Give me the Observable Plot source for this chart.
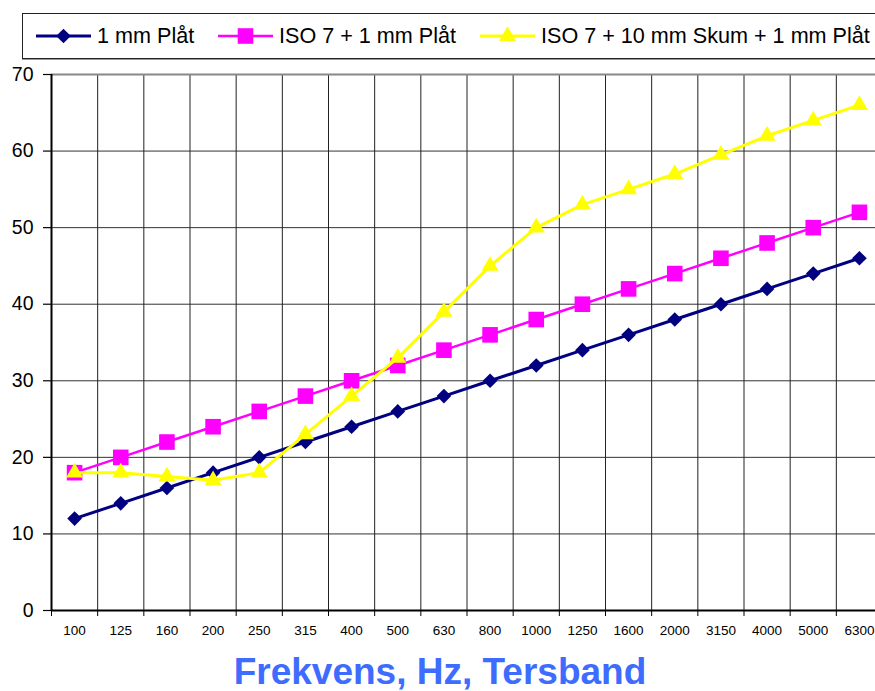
<!DOCTYPE html>
<html><head><meta charset="utf-8">
<script src="https://cdn.jsdelivr.net/npm/d3@7"></script>
<script src="https://cdn.jsdelivr.net/npm/@observablehq/plot@0.6"></script>
<style>
html,body{margin:0;padding:0;background:#fff;overflow:hidden;width:875px;height:691px;font-family:"Liberation Sans",Arial,sans-serif;position:relative;}
#legend{position:absolute;left:22px;top:13px;width:880px;height:44px;border:1px solid #222;box-shadow:0 1px 0 #999;background:#fff;}
.item{position:absolute;top:0;height:44px;display:flex;align-items:center;font-size:21.6px;color:#000;white-space:nowrap;}
.item svg{margin-right:6px}
#chart{position:absolute;left:0;top:60px;width:882px;}
#chart svg{max-width:none !important;display:block;}
#title{position:absolute;left:0;width:880px;top:654px;height:36px;text-align:center;font-weight:bold;font-size:37px;line-height:36px;color:#3d6cff;}
</style></head><body>
<div id="legend"></div>
<div id="chart"></div>
<div id="title">Frekvens, Hz, Tersband</div>
<script>
const categories = ["100","125","160","200","250","315","400","500","630","800","1000","1250","1600","2000","3150","4000","5000","6300"];
const seriesNames = ["1 mm Plåt","ISO 7 + 1 mm Plåt","ISO 7 + 10 mm Skum + 1 mm Plåt"];
const plat1 = [12,14,16,18,20,22,24,26,28,30,32,34,36,38,40,42,44,46];
const iso7plat = [18,20,22,24,26,28,30,32,34,36,38,40,42,44,46,48,50,52];
const iso7skum = [18,18,17.5,17,18,23,28,33,39,45,50,53,55,57,59.5,62,64,66];
const yTicks = [0,10,20,30,40,50,60,70];
const colors = ["#000080","#ff00ff","#ffff00"];
const symbols = ["diamond2","square","triangle"];
const sizes = [6.6,8.8,6.3];
const widths = [3,2.5,3];

const all = [plat1, iso7plat, iso7skum];
const data = [];
all.forEach((vals, s) => vals.forEach((v, i) => data.push({series: seriesNames[s], s, x: i + 0.5, cat: categories[i], y: v})));
const boundaries = d3.range(1, categories.length);
const centers = categories.map((c, i) => i + 0.5);

const marks = [
  Plot.gridY(yTicks.filter(t => t > 0 && t < 70), {stroke: "#333", strokeOpacity: 1, strokeWidth: 1}),
  Plot.gridX(boundaries, {stroke: "#222", strokeOpacity: 1, strokeWidth: 1}),
  Plot.ruleY([70], {stroke: "#888", strokeWidth: 2}),
  Plot.axisY(yTicks, {tickSize: 8, tickPadding: 10, fontSize: 19.5, label: null, stroke: "#000", strokeWidth: 1.2}),
  Plot.axisX([0].concat(boundaries), {tickSize: 6, tickFormat: () => "", label: null, stroke: "#000"}),
  Plot.axisX(centers, {tickSize: 0, tickPadding: 15, fontSize: 13.5, tickFormat: d => categories[Math.floor(d)], label: null}),
  Plot.ruleX([0], {stroke: "#000", strokeWidth: 2}),
  Plot.ruleY([0], {stroke: "#000", strokeWidth: 2})
];
[0,1,2].forEach(s => {
  const d = data.filter(r => r.s === s);
  marks.push(Plot.line(d, {x: "x", y: "y", stroke: colors[s], strokeWidth: widths[s]}));
  marks.push(Plot.dot(d, {x: "x", y: "y", symbol: symbols[s], r: sizes[s], fill: colors[s], stroke: "none"}));
});

const chart = Plot.plot({
  width: 882, height: 580,
  marginLeft: 51, marginRight: 0, marginTop: 14, marginBottom: 30,
  x: {type: "linear", domain: [0, categories.length]},
  y: {domain: [0, 70]},
  style: {fontFamily: "Liberation Sans, Arial, sans-serif", color: "#000", background: "#fff", maxWidth: "none"},
  marks
});
document.getElementById("chart").appendChild(chart);

// legend
const legend = d3.select("#legend");
const lefts = [13, 195, 457];
seriesNames.forEach((name, s) => {
  const item = legend.append("div").attr("class", "item").style("left", lefts[s] + "px");
  const sv = item.append("svg").attr("width", 55).attr("height", 22);
  sv.append("line").attr("x1", 0).attr("x2", 55).attr("y1", 11).attr("y2", 11).attr("stroke", colors[s]).attr("stroke-width", widths[s]);
  const sym = {diamond2: d3.symbolDiamond2, square: d3.symbolSquare, triangle: d3.symbolTriangle}[symbols[s]];
  sv.append("path").attr("transform", "translate(27.5,11)").attr("d", d3.symbol(sym, sizes[s] * sizes[s] * Math.PI)()).attr("fill", colors[s]);
  item.append("span").text(name);
});
</script>
</body></html>
